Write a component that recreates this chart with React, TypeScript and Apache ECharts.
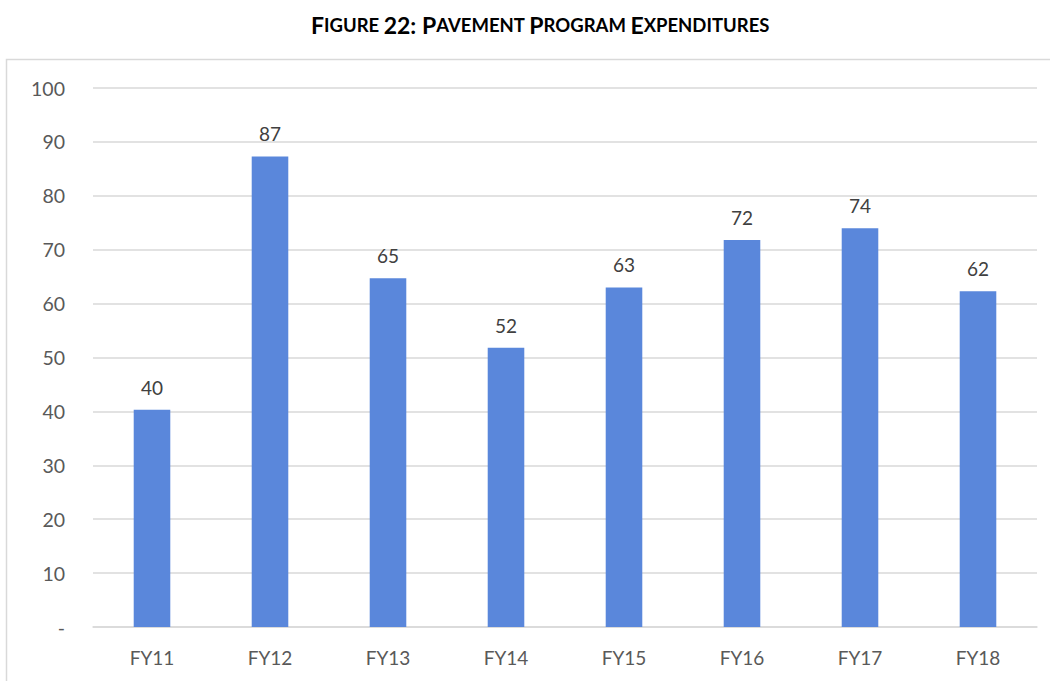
import React, { useEffect, useRef } from "react";
import * as echarts from "echarts";

const categories = ["FY11", "FY12", "FY13", "FY14", "FY15", "FY16", "FY17", "FY18"];
const expenditures = [40.3, 87.3, 64.7, 51.8, 63.0, 71.8, 74.0, 62.3];
const yTicks = [0, 10, 20, 30, 40, 50, 60, 70, 80, 90, 100];

const FONT = "Lato, 'Open Sans', sans-serif";

export default function App() {
  const ref = useRef<HTMLDivElement>(null);
  useEffect(() => {
    document.body.style.margin = "0";
    const chart = echarts.init(ref.current!, null, { renderer: "svg" });
    chart.setOption({
      animation: false,
      backgroundColor: "#ffffff",
      title: {
        text: "{b|F}{s|IGURE }{b|22: P}{s|AVEMENT }{b|P}{s|ROGRAM }{b|E}{s|XPENDITURES}",
        left: 306,
        top: 8,
        textStyle: {
          rich: {
            b: { fontFamily: FONT, fontWeight: "bold", fontSize: 23, color: "#000000" },
            s: { fontFamily: FONT, fontWeight: "bold", fontSize: 18.5, color: "#000000" },
          },
        },
      },
      graphic: [
        {
          type: "rect",
          shape: { x: 6.5, y: 59.5, width: 1100, height: 700 },
          style: { fill: "none", stroke: "#d9d9d9", lineWidth: 1.5 },
          silent: true,
        },
      ],
      grid: { left: 93, right: 13, top: 88, bottom: 54 },
      xAxis: {
        type: "category",
        data: categories,
        axisLine: { lineStyle: { color: "#d9d9d9", width: 1.5 } },
        axisTick: { show: false },
        axisLabel: { color: "#595959", fontSize: 19, fontFamily: FONT, margin: 21 },
      },
      yAxis: {
        type: "value",
        min: yTicks[0],
        max: yTicks[yTicks.length - 1],
        interval: 10,
        axisLine: { show: false },
        axisTick: { show: false },
        splitLine: { lineStyle: { color: "#d9d9d9", width: 1.5 } },
        axisLabel: {
          color: "#595959",
          fontSize: 19.5,
          fontFamily: FONT,
          margin: 28,
          formatter: (v: number) => (v === 0 ? "-" : String(v)),
        },
      },
      series: [
        {
          type: "bar",
          data: expenditures,
          barWidth: "31%",
          itemStyle: { color: "#5A87DB" },
          label: {
            show: true,
            position: "top",
            distance: 13,
            color: "#404040",
            fontSize: 19,
            fontFamily: FONT,
            formatter: (p: any) => String(Math.round(p.value)),
          },
        },
      ],
    });
    return () => chart.dispose();
  }, []);
  return <div ref={ref} style={{ width: 1050, height: 681 }} />;
}
